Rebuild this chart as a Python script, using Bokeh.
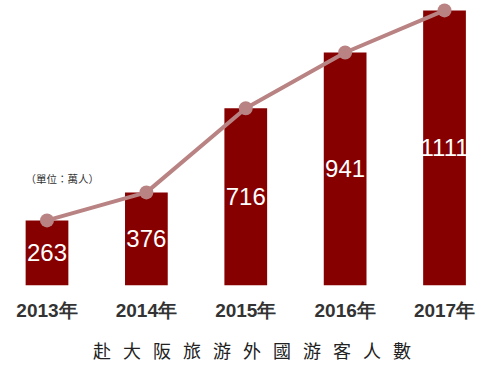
from bokeh.plotting import figure
from bokeh.models import ColumnDataSource, LinearAxis, FixedTicker, Title, Label, Range1d
from bokeh.embed import file_html
from bokeh.resources import INLINE

categories = ["2013年", "2014年", "2015年", "2016年", "2017年"]
visitors = [263, 376, 716, 941, 1111]
title_text = "赴\u2002\u2006大\u2002\u2006阪\u2002\u2006旅\u2002\u2006游\u2002\u2006外\u2002\u2006國\u2002\u2006游\u2002\u2006客\u2002\u2006人\u2002\u2006數"
unit_text = "（單位：萬人）"

xs = list(range(len(categories)))
src = ColumnDataSource(dict(
    x=xs, v=visitors, mid=[v / 2 for v in visitors],
    lab=[str(v) for v in visitors],
))

p = figure(width=495, frame_width=487, frame_height=285,
           output_backend="svg", toolbar_location=None,
           x_range=Range1d(-0.3874, 4.513), y_range=Range1d(0, 1151),
           min_border_left=8, min_border_right=0, min_border_top=0,
           min_border_bottom=0, x_axis_type=None, y_axis_type=None)
p.outline_line_color = None
p.grid.visible = False

p.vbar(x="x", top="v", width=0.43, bottom=0, source=src,
       fill_color="#870000", line_color=None)
p.text(x="x", y="mid", text="lab", source=src, text_color="white",
       text_align="center", text_baseline="middle",
       text_font_size="24px", text_font={"value": "Liberation Sans"})
p.line(x="x", y="v", source=src, line_color="#b98383", line_width=4)
p.scatter(x="x", y="v", source=src, size=14, fill_color="#b98383",
          line_color=None)

ax = LinearAxis(ticker=FixedTicker(ticks=xs),
                major_label_overrides={i: c for i, c in zip(xs, categories)})
ax.axis_line_color = None
ax.major_tick_line_color = None
ax.minor_tick_line_color = None
ax.major_label_standoff = 8
ax.major_label_text_font = "Liberation Sans"
ax.major_label_text_font_style = "bold"
ax.major_label_text_font_size = "19px"
ax.major_label_text_color = "#333333"
p.add_layout(ax, "below")

t = Title(text=title_text, align="center", text_font_size="18px",
          text_font_style="normal", text_color="#222222",
          text_font="Noto Sans CJK TC", standoff=22, offset=4)
p.add_layout(t, "below")

p.add_layout(Label(x=-0.216, y=432, text=unit_text, text_font_size="10.5px",
                   text_color="#333333", text_baseline="middle",
                   text_font="Noto Sans CJK TC"))

open("out.html", "w").write(file_html(p, INLINE))
